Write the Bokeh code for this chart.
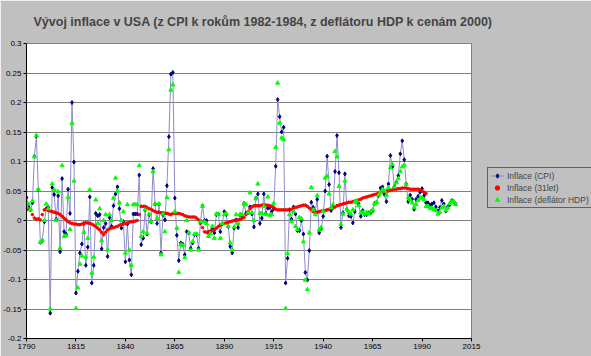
from bokeh.plotting import figure
from bokeh.models import (Legend, LegendItem, FixedTicker, CustomJSTickFormatter)
from bokeh.embed import file_html
from bokeh.resources import INLINE

TITLE = "Vývoj inflace v USA (z CPI k rokům 1982-1984, z deflátoru HDP k cenám 2000)"
LABEL_CPI = "Inflace (CPI)"
LABEL_MA = "Inflace (31let)"
LABEL_DEF = "Inflace (deflátor HDP)"

X_TICKS = [1790, 1815, 1840, 1865, 1890, 1915, 1940, 1965, 1990, 2015]
Y_TICKS = [-0.2, -0.15, -0.1, -0.05, 0.0, 0.05, 0.1, 0.15, 0.2, 0.25, 0.3]

cpi_start = 1790
cpi = [
    0.039, 0.023, 0.018, 0.030, 0.109, 0.143, 0.052, -0.037, -0.034, -0.002,   # 1790-1799
    0.020, 0.022, -0.157, 0.056, 0.044, 0.002, 0.042, -0.053, 0.071, -0.019,   # 1800-1809
    -0.023, 0.053, 0.012, 0.200, 0.099, -0.123, -0.086, -0.055, -0.040, -0.005,  # 1810-1819
    -0.076, -0.045, 0.040, -0.106, -0.076, 0.012, 0.008, 0.010, -0.048, -0.012,  # 1820-1829
    -0.005, -0.061, 0.005, -0.010, 0.025, 0.045, 0.057, 0.020, -0.013, -0.002,  # 1830-1839
    -0.070, -0.006, -0.067, -0.092, 0.011, 0.011, 0.011, 0.077, -0.041, -0.030,  # 1840-1849
    0.018, -0.023, 0.010, -0.002, 0.088, 0.028, -0.005, 0.028, -0.055, 0.010,   # 1850-1859
    0.001, 0.059, 0.142, 0.248, 0.251, 0.038, -0.025, -0.068, -0.038, -0.040,   # 1860-1869
    -0.058, -0.019, -0.021, -0.047, -0.038, -0.024, -0.024, -0.047, -0.001, 0.025,  # 1870-1879
    0.000, 0.000, -0.021, -0.019, -0.013, -0.021, 0.010, 0.011, -0.019, -0.005,  # 1880-1889
    0.015, 0.010, -0.010, -0.044, -0.055, -0.013, 0.001, -0.012, 0.010, 0.009,  # 1890-1899
    0.029, 0.012, 0.013, 0.023, 0.011, -0.011, 0.038, 0.045, -0.005, 0.004,    # 1900-1909
    0.045, 0.012, 0.021, 0.022, 0.015, 0.020, 0.092, 0.205, 0.176, 0.150,      # 1910-1919
    0.158, -0.106, -0.064, 0.018, 0.002, 0.023, 0.011, -0.017, -0.017, 0.000,  # 1920-1929
    -0.023, -0.088, -0.101, -0.051, 0.031, 0.022, 0.015, 0.036, -0.021, -0.014,  # 1930-1939
    0.007, 0.050, 0.109, 0.061, 0.017, 0.023, 0.083, 0.144, 0.081, -0.012,     # 1940-1949
    0.013, 0.079, 0.019, 0.008, 0.007, -0.004, 0.015, 0.033, 0.028, 0.007,     # 1950-1959
    0.017, 0.010, 0.010, 0.013, 0.013, 0.016, 0.029, 0.031, 0.042, 0.055,      # 1960-1969
    0.057, 0.044, 0.032, 0.062, 0.110, 0.091, 0.058, 0.065, 0.076, 0.113,      # 1970-1979
    0.135, 0.103, 0.062, 0.032, 0.043, 0.036, 0.019, 0.036, 0.041, 0.048,      # 1980-1989
    0.054, 0.042, 0.030, 0.030, 0.026, 0.028, 0.030, 0.023, 0.016, 0.022,      # 1990-1999
    0.034, 0.028, 0.016, 0.023, 0.027, 0.034, 0.032, 0.028,                    # 2000-2007
]

ma_start = 1790
ma31 = [
    0.018, 0.020, 0.018, 0.010, 0.004, 0.002, 0.003, 0.001, 0.010, 0.018,      # 1790-1799
    0.019, 0.017, 0.016, 0.015, 0.014, 0.013, 0.012, 0.010, 0.007, 0.004,      # 1800-1809
    0.001, -0.002, -0.004, -0.005, -0.006, -0.006, -0.007, -0.007, -0.006, -0.005,  # 1810-1819
    -0.004, -0.004, -0.005, -0.006, -0.008, -0.010, -0.013, -0.016, -0.020, -0.024,  # 1820-1829
    -0.020, -0.016, -0.014, -0.013, -0.012, -0.011, -0.010, -0.008, -0.007, -0.006,  # 1830-1839
    -0.005, -0.004, -0.003, -0.002, -0.002, -0.001, 0.000, 0.010, 0.024, 0.024,  # 1840-1849
    0.024, 0.022, 0.020, 0.019, 0.017, 0.015, 0.014, 0.014, 0.013, 0.013,      # 1850-1859
    0.012, 0.012, 0.011, 0.010, 0.012, 0.012, 0.012, 0.012, 0.011, 0.010,      # 1860-1869
    0.008, 0.007, 0.006, 0.006, 0.006, 0.006, 0.004, 0.001, -0.005, -0.012,    # 1870-1879
    -0.019, -0.020, -0.019, -0.018, -0.017, -0.016, -0.013, -0.010, -0.008, -0.006,  # 1880-1889
    -0.005, -0.004, -0.003, -0.002, -0.001, 0.000, 0.000, 0.001, 0.002, 0.004,  # 1890-1899
    0.005, 0.010, 0.015, 0.020, 0.023, 0.025, 0.025, 0.025, 0.025, 0.026,      # 1900-1909
    0.026, 0.026, 0.026, 0.025, 0.024, 0.022, 0.019, 0.018, 0.018, 0.018,      # 1910-1919
    0.018, 0.018, 0.018, 0.019, 0.019, 0.021, 0.022, 0.023, 0.024, 0.025,      # 1920-1929
    0.026, 0.026, 0.024, 0.021, 0.018, 0.015, 0.014, 0.014, 0.015, 0.016,      # 1930-1939
    0.016, 0.017, 0.018, 0.019, 0.020, 0.021, 0.023, 0.025, 0.026, 0.027,      # 1940-1949
    0.028, 0.029, 0.030, 0.031, 0.031, 0.032, 0.033, 0.034, 0.035, 0.036,      # 1950-1959
    0.038, 0.039, 0.040, 0.041, 0.042, 0.043, 0.044, 0.045, 0.046, 0.047,      # 1960-1969
    0.048, 0.049, 0.050, 0.050, 0.051, 0.052, 0.053, 0.053, 0.054, 0.054,      # 1970-1979
    0.055, 0.055, 0.055, 0.054, 0.053, 0.053, 0.053, 0.053, 0.053, 0.052,      # 1980-1989
    0.050, 0.048, 0.046,                                                       # 1990-1992
]

def_start = 1790
deflator = [
    0.023, 0.028, 0.019, 0.033, 0.108, 0.144, 0.052, -0.037, -0.034, 0.000,    # 1790-1799
    0.028, 0.020, -0.150, 0.062, 0.052, 0.000, 0.049, -0.047, 0.093, -0.027,   # 1800-1809
    -0.026, 0.039, -0.015, 0.165, 0.067, -0.149, -0.114, -0.074, -0.060, -0.020,  # 1810-1819
    -0.062, -0.030, 0.052, -0.089, -0.062, 0.035, -0.005, 0.020, -0.034, 0.000,  # 1820-1829
    0.010, -0.050, 0.010, 0.000, 0.038, 0.072, 0.050, 0.030, 0.000, 0.015,     # 1830-1839
    -0.055, 0.027, -0.050, -0.076, 0.027, 0.027, 0.027, 0.093, -0.027, -0.019,  # 1840-1849
    0.018, -0.022, 0.011, -0.002, 0.083, 0.028, 0.004, 0.028, -0.058, 0.011,   # 1850-1859
    -0.019, 0.039, 0.120, 0.221, 0.230, 0.015, -0.013, -0.088, -0.041, -0.042,  # 1860-1869
    -0.063, 0.000, -0.021, -0.050, -0.036, -0.023, -0.023, -0.050, -0.002, 0.024,  # 1870-1879
    -0.002, -0.005, -0.027, -0.022, -0.010, -0.030, 0.011, 0.010, -0.030, -0.005,  # 1880-1889
    0.010, 0.012, -0.010, -0.038, -0.050, -0.011, 0.010, -0.005, 0.010, 0.010,  # 1890-1899
    0.028, 0.027, 0.013, 0.047, 0.013, 0.000, 0.037, 0.062, 0.012, 0.012,      # 1900-1909
    0.024, 0.011, 0.040, 0.009, 0.010, 0.029, 0.124, 0.233, 0.165, 0.140,      # 1910-1919
    0.137, -0.149, -0.056, 0.010, -0.002, 0.015, -0.010, -0.015, 0.005, 0.003,  # 1920-1929
    -0.036, -0.101, -0.117, -0.021, 0.056, 0.018, 0.010, 0.042, -0.016, -0.012,  # 1930-1939
    0.016, 0.072, 0.075, 0.045, 0.022, 0.027, 0.117, 0.108, 0.058, -0.006,     # 1940-1949
    0.011, 0.067, 0.019, 0.014, 0.011, 0.018, 0.031, 0.033, 0.025, 0.013,      # 1950-1959
    0.014, 0.011, 0.014, 0.011, 0.015, 0.018, 0.028, 0.031, 0.043, 0.047,      # 1960-1969
    0.053, 0.050, 0.043, 0.056, 0.090, 0.095, 0.057, 0.064, 0.071, 0.083,      # 1970-1979
    0.091, 0.094, 0.061, 0.039, 0.035, 0.030, 0.022, 0.027, 0.034, 0.038,      # 1980-1989
    0.039, 0.035, 0.024, 0.024, 0.021, 0.021, 0.019, 0.017, 0.011, 0.014,      # 1990-1999
    0.022, 0.024, 0.017, 0.021, 0.029, 0.033, 0.032, 0.027,                    # 2000-2007
]

cpi_years = list(range(cpi_start, cpi_start + len(cpi)))
ma_years = list(range(ma_start, ma_start + len(ma31)))
def_years = list(range(def_start, def_start + len(deflator)))

FONT = "Liberation Sans"

p = figure(frame_width=445, frame_height=295, x_range=(1790, 2015), y_range=(-0.2, 0.3),
           output_backend="svg", toolbar_location=None,
           background_fill_color="white", border_fill_color="#C0C0C0",
           min_border_left=26, min_border_right=120, min_border_top=43,
           min_border_bottom=18, outline_line_color="#808080")

p.title.text = TITLE
p.title.text_font = FONT
p.title.text_font_size = "12.5px"
p.title.text_font_style = "bold"
p.title.align = "left"
p.title.vertical_align = "top"
p.title.offset = 7
p.title.standoff = 26

cpi_line = p.line(cpi_years, cpi, line_color="#8C8CCC", line_width=1)
cpi_pts = p.scatter(cpi_years, cpi, marker="diamond", size=4,
                    fill_color="#000080", line_color="#000080")
ma_pts = p.scatter(ma_years, ma31, marker="circle", size=2.6,
                   fill_color="#FF0000", line_color="#FF0000")
def_pts = p.scatter(def_years, deflator, marker="triangle", size=4,
                    fill_color="#00FF00", line_color="#00FF00")

p.xgrid.visible = False
p.ygrid.grid_line_color = "#808080"
p.ygrid.ticker = FixedTicker(ticks=Y_TICKS)

for ax in (p.xaxis[0], p.yaxis[0]):
    ax.axis_line_color = "black"
    ax.major_tick_line_color = "black"
    ax.major_tick_out = 3
    ax.major_tick_in = 0
    ax.minor_tick_line_color = None
    ax.major_label_text_font = FONT
    ax.major_label_text_font_size = "8px"
    ax.major_label_text_color = "black"
    ax.major_label_standoff = 2

p.xaxis.ticker = FixedTicker(ticks=X_TICKS)
p.yaxis.ticker = FixedTicker(ticks=Y_TICKS)
p.yaxis.formatter = CustomJSTickFormatter(
    code="return String(Math.round(tick*100)/100);")

legend = Legend(items=[
    LegendItem(label=LABEL_CPI, renderers=[cpi_line, cpi_pts]),
    LegendItem(label=LABEL_MA, renderers=[ma_pts]),
    LegendItem(label=LABEL_DEF, renderers=[def_pts]),
], location=(16, 130))
legend.background_fill_color = "#C0C0C0"
legend.background_fill_alpha = 1
legend.border_line_color = "black"
legend.border_line_width = 1
legend.label_text_font = FONT
legend.label_text_font_size = "8.5px"
legend.glyph_width = 14
legend.glyph_height = 11
legend.label_height = 11
legend.label_standoff = 3
legend.spacing = 1
legend.padding = 2
legend.margin = 0
p.add_layout(legend, "right")

open("out.html", "w").write(file_html(p, INLINE))
